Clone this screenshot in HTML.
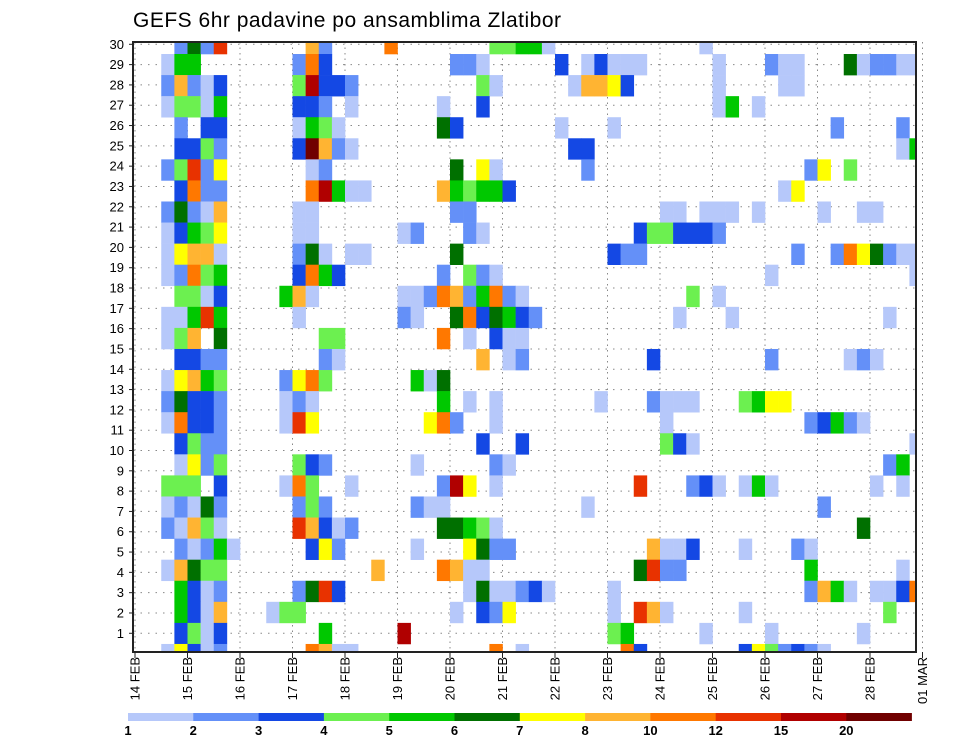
<!DOCTYPE html>
<html><head><meta charset="utf-8"><style>
html,body{margin:0;padding:0;background:#fff;}
svg{display:block;font-family:"Liberation Sans",sans-serif;}
</style></head><body>
<svg id="chart" width="960" height="742" viewBox="0 0 960 742" xmlns="http://www.w3.org/2000/svg">
<text x="133" y="27" font-size="21" fill="#000" letter-spacing="0.5">GEFS 6hr padavine po ansamblima Zlatibor</text>
<g id="grid"></g>
<g id="cells"></g>
<rect x="133" y="42" width="783" height="610" fill="none" stroke="#222" stroke-width="2"/>
<g id="yaxis"></g>
<g id="xaxis"></g>
<g id="colorbar"></g>
</svg>
<script>
// ---- data ----
const members = [30,29,28,27,26,25,24,23,22,21,20,19,18,17,16,15,14,13,12,11,10,9,8,7,6,5,4,3,2,1];
// each entry: "step:level" pairs (step = 6h index from 14 FEB 00z, level code 1..c)
const memberCells = [
"3:2 4:6 5:2 6:a 13:8 14:2 19:9 27:4 28:4 29:5 30:5 31:1 43:1",
"2:1 3:5 4:5 12:2 13:9 14:3 24:2 25:2 26:1 32:3 34:1 35:3 36:1 37:1 38:1 44:1 48:2 49:1 50:1 54:6 55:1 56:2 57:2 58:1 59:1",
"2:2 3:8 4:2 5:1 6:3 12:4 13:b 14:3 15:3 16:2 26:4 27:1 33:1 34:8 35:8 36:7 37:3 44:1 49:1 50:1",
"2:1 3:4 4:4 5:1 6:5 12:3 13:3 14:2 16:1 23:1 26:3 44:1 45:5 47:1",
"3:2 5:3 6:3 12:1 13:5 14:4 15:1 23:6 24:3 32:1 36:1 53:2 58:2",
"3:3 4:3 5:4 6:2 12:3 13:c 14:8 15:2 16:1 33:3 34:3 58:1 59:5",
"2:2 3:4 4:a 5:2 6:7 13:1 14:2 24:6 26:7 27:1 34:2 51:2 52:7 54:4",
"3:3 4:9 5:2 6:2 13:9 14:b 15:5 16:1 17:1 23:8 24:5 25:4 26:5 27:5 28:3 49:1 50:7",
"2:2 3:6 4:2 5:1 6:8 12:1 13:1 24:2 25:2 40:1 41:1 43:1 44:1 45:1 47:1 52:1 55:1 56:1",
"2:1 3:3 4:5 5:4 6:7 12:1 13:1 20:1 21:2 25:2 26:1 38:3 39:4 40:4 41:3 42:3 43:3 44:2",
"2:1 3:7 4:8 5:8 6:1 12:2 13:6 14:1 16:1 17:1 24:6 36:3 37:2 38:2 50:2 53:2 54:9 55:7 56:6 57:2 58:1 59:1",
"2:1 3:2 4:9 5:4 6:5 12:3 13:9 14:5 15:3 23:2 25:4 26:2 27:1 48:1 59:1",
"3:4 4:4 5:1 6:3 11:5 12:8 13:1 20:1 21:1 22:2 23:9 24:8 25:2 26:5 27:9 28:2 29:1 42:4 44:1",
"2:1 3:1 4:5 5:a 6:5 12:1 20:2 21:1 24:6 25:9 26:3 27:6 28:5 29:3 30:2 41:1 45:1 57:1",
"2:1 3:4 4:8 6:6 14:4 15:4 23:9 25:1 27:3 28:1 29:1",
"3:3 4:3 5:2 6:2 14:2 15:1 26:8 28:1 29:2 39:3 48:2 54:1 55:2 56:1",
"2:1 3:7 4:8 5:5 6:4 11:2 12:7 13:9 14:4 21:5 22:1 23:6",
"2:2 3:6 4:3 5:3 6:2 11:1 12:2 13:1 23:5 25:1 27:1 35:1 39:2 40:1 41:1 42:1 46:4 47:5 48:7 49:7",
"2:1 3:9 4:3 5:3 6:2 11:1 12:a 13:7 22:7 23:9 24:2 27:1 40:1 51:2 52:3 53:5 54:2 55:1",
"3:3 4:4 5:2 6:2 26:3 29:3 40:4 41:3 42:1 59:1",
"3:1 4:7 5:2 6:4 12:4 13:3 14:2 21:1 27:2 28:1 57:2 58:5",
"2:4 3:4 4:4 6:3 11:1 12:9 13:4 16:1 23:2 24:b 25:7 27:1 38:a 42:2 43:3 44:1 46:1 47:5 48:1 56:1 58:1",
"2:1 3:2 4:1 5:6 6:2 12:2 13:4 14:2 21:2 22:1 23:1 34:1 52:2",
"2:2 3:1 4:8 5:4 6:1 12:a 13:8 14:3 15:1 16:2 23:6 24:6 25:5 26:4 27:1 55:6",
"3:2 4:1 5:2 6:5 7:1 13:3 14:7 15:2 21:1 25:7 26:6 27:2 28:2 39:8 40:1 41:1 42:3 46:1 50:2 51:1",
"2:1 3:8 4:6 5:4 6:4 18:8 23:9 24:8 25:1 26:1 38:6 39:a 40:2 41:2 51:5 58:1",
"3:5 4:3 5:1 6:2 12:2 13:6 14:a 15:3 25:1 26:6 27:1 28:1 29:2 30:3 31:1 36:1 51:2 52:8 53:5 54:1 56:1 57:1 58:3 59:9",
"3:5 4:3 5:1 6:8 10:1 11:4 12:4 24:1 26:3 27:2 28:7 36:1 38:a 39:8 40:1 46:1 57:4",
"3:3 4:4 5:1 6:3 14:5 20:b 36:4 37:5 43:1 48:1 55:1",
"2:1 3:7 4:3 5:1 6:2 13:9 14:8 15:1 16:1 27:9 29:1 37:9 38:3 46:3 47:7 48:4 49:2 50:3 51:2 52:1"
];
const levelCodes = ["1","2","3","4","5","6","7","8","9","a","b","c"];
const levelColors = ["#b6c8fa","#6490f8","#1448e4","#6cf050","#00c800","#007000","#ffff00","#ffb432","#ff7800","#e83200","#b00000","#700000"];
const colorbarLabels = ["1","2","3","4","5","6","7","8","10","12","15","20"];
const dayLabels = ["14 FEB","15 FEB","16 FEB","17 FEB","18 FEB","19 FEB","20 FEB","21 FEB","22 FEB","23 FEB","24 FEB","25 FEB","26 FEB","27 FEB","28 FEB","01 MAR"];
const yTicks = [1,2,3,4,5,6,7,8,9,10,11,12,13,14,15,16,17,18,19,20,21,22,23,24,25,26,27,28,29,30];

// ---- scales ----
const NS="http://www.w3.org/2000/svg";
const PL=133, PR=916, PT=42, PB=652;
const x0=135, stepW=13.125;           // 6h step width
const xStep = s => x0 + s*stepW;
const xDay = d => x0 + d*4*stepW;
const cellTop=54, cellH=21.07;
const yCell = m => cellTop + cellH*(30-m-1);
const yTick = v => 653.6 - v*20.31;

function mk(tag, attrs, parent){const e=document.createElementNS(NS,tag);for(const k in attrs)e.setAttribute(k,attrs[k]);parent.appendChild(e);return e;}

// grid
const grid=document.getElementById('grid');
yTicks.forEach(v=>{
  const l=mk('line',{x1:PL,x2:PR,y1:yTick(v),y2:yTick(v),stroke:'#888','stroke-width':1,'stroke-dasharray':'1.5 6'},grid);
  
  
});
dayLabels.forEach((d,i)=>{
  const l=mk('line',{x1:xDay(i),x2:xDay(i),y1:PT,y2:PB,stroke:'#888','stroke-width':1,'stroke-dasharray':'1.5 4'},grid);
  
  
});

// cells
const cg=document.getElementById('cells');
members.forEach((m,mi)=>{
  memberCells[mi].split(' ').forEach(p=>{
    if(!p)return;
    const [s,c]=p.split(':');const step=+s;const li=levelCodes.indexOf(c);if(li<0)return;
    let x=xStep(step), w=stepW, y=yCell(m), h=cellH;
    if(x+w>PR){w=PR-x;} if(y<PT){h-=PT-y;y=PT;} if(y+h>PB){h=PB-y;}
    if(w<=0||h<=0)return;
    const r=mk('rect',{x:x.toFixed(2),y:y.toFixed(2),width:(w+0.3).toFixed(2),height:(h+0.3).toFixed(2),fill:levelColors[li]},cg);
    
    
  });
});

// y axis
const ya=document.getElementById('yaxis');
yTicks.forEach(v=>{
  const t=mk('text',{x:124,y:yTick(v)+4.5,'font-size':13,'text-anchor':'end',fill:'#000'},ya);
  t.textContent=v;
  
  
  const tk=mk('line',{x1:PL-4,x2:PL,y1:yTick(v),y2:yTick(v),stroke:'#222','stroke-width':1},ya);
  
  
});

// x axis
const xa=document.getElementById('xaxis');
dayLabels.forEach((d,i)=>{
  const x=xDay(i);
  const tk=mk('line',{x1:x,x2:x,y1:PB,y2:PB+6,stroke:'#222','stroke-width':1},xa);
  
  
  const t=mk('text',{x:0,y:0,'font-size':13,'text-anchor':'end',fill:'#000',transform:'translate('+(x+4.5)+','+(PB+5)+') rotate(-90)'},xa);
  t.textContent=d;
  
  
});

// colorbar
const cb=document.getElementById('colorbar');
const cbX=128, cbW=65.3, cbY=713, cbH=8;
levelColors.forEach((c,i)=>{
  const r=mk('rect',{x:cbX+i*cbW,y:cbY,width:cbW+0.3,height:cbH,fill:c},cb);
  
  
});
colorbarLabels.forEach((l,i)=>{
  const t=mk('text',{x:cbX+i*cbW,y:735,'font-size':13,'text-anchor':'middle',fill:'#000','font-weight':'bold'},cb);
  t.textContent=l;
  
  
});
</script>
</body></html>
